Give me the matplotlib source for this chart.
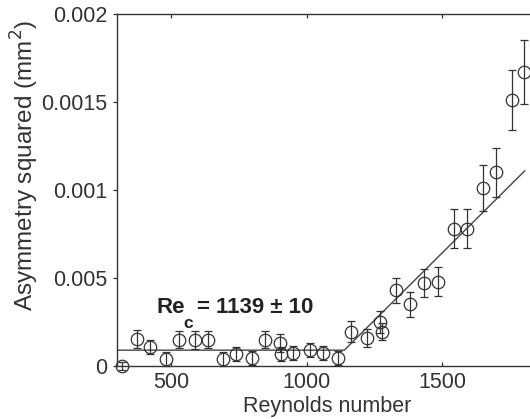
import numpy as np
import matplotlib
matplotlib.use("Agg")
import matplotlib.pyplot as plt

plt.rcParams['font.family'] = ['Liberation Sans', 'DejaVu Sans']

# measured points (Reynolds number, asymmetry squared in mm^2, error)
reynolds = [318, 373, 422, 482, 530, 589, 635, 693, 740, 798, 845, 902, 906, 951,
            1013, 1060, 1117, 1164, 1222, 1271, 1277, 1330, 1382, 1434, 1486, 1544,
            1593, 1652, 1699, 1757, 1803]
asym_sq = [0.0, 0.000152, 0.00011, 0.00004, 0.00015, 0.000148, 0.00015, 0.00004,
           0.00007, 0.000044, 0.00015, 0.00013, 0.000068, 0.000076, 0.00009, 0.000076,
           0.000044, 0.000195, 0.00016, 0.00025, 0.000195, 0.00043, 0.00035, 0.00047,
           0.00048, 0.00078, 0.00078, 0.00101, 0.0011, 0.00151, 0.00167]
asym_err = [0.00002, 0.00005, 0.00004, 0.00004, 0.00005, 0.00005, 0.00005, 0.00004,
            0.00004, 0.00004, 0.00005, 0.00005, 0.00004, 0.00004, 0.00004, 0.00004,
            0.00004, 0.00006, 0.00005, 0.00006, 0.00005, 0.00007, 0.00007, 0.00008,
            0.00008, 0.00011, 0.00011, 0.00013, 0.00014, 0.00017, 0.00018]

# piecewise fit: flat then linear above Re_c
re_c = 1139
fit_base = 0.00009
fit_slope = 1.53e-6
fit_end = 1805

xticks = [500, 1000, 1500]
yticks = [0, 0.0005, 0.001, 0.0015, 0.002]
ytick_labels = ['0', '0.005', '0.001', '0.0015', '0.002']

ink = '#333333'
tick_fs = 15.5

fig = plt.figure(figsize=(5.3, 4.19), dpi=100)
# axes runs past the right edge, the original figure is cropped there
ax = fig.add_axes([0.2208, 0.1265, 0.869, 0.840])
ax.set_xlim(300, 2000)
ax.set_ylim(0, 0.002)

# fit line
fit_x = np.array([300, re_c, fit_end])
fit_y = np.where(fit_x <= re_c, fit_base, fit_base + fit_slope * (fit_x - re_c))
ax.plot(fit_x, fit_y, color='#444444', lw=1.0, zorder=2)

ax.errorbar(reynolds, asym_sq, yerr=asym_err, fmt='o', ms=9, mfc='none',
            mec=ink, mew=0.9, ecolor=ink, elinewidth=0.9, capsize=3,
            capthick=0.9, clip_on=False, zorder=3)

ax.set_xticks(xticks)
ax.set_yticks(yticks)
ax.set_yticklabels(ytick_labels)
ax.tick_params(axis='x', direction='in', top=True, length=3, width=0.9,
               colors=ink, labelsize=tick_fs, pad=4)
ax.tick_params(axis='y', direction='out', length=3, width=0.9,
               colors=ink, labelsize=tick_fs, pad=4)
for s in ax.spines.values():
    s.set_color(ink)
    s.set_linewidth(1.0)

ax.set_xlabel('Reynolds number', fontsize=tick_fs, color=ink)
ax.xaxis.set_label_coords(0.456, -0.085)
ax.set_ylabel('Asymmetry squared (mm$^2$)', fontsize=17.5, color=ink)
ax.yaxis.set_label_coords(-0.166, 0.57)

# Re_c annotation
tx, ty = 446, 0.0003
ax.text(tx, ty, 'Re', fontsize=16, fontweight='bold', color='#222222',
        ha='left', va='baseline')
ax.annotate('c', xy=(tx, ty), xytext=(19.5, -10.5), textcoords='offset points',
            fontsize=12.5, fontweight='bold', color='#222222', ha='left', va='baseline')
ax.annotate('= 1139 ± 10', xy=(tx, ty), xytext=(29, 0), textcoords='offset points',
            fontsize=16, fontweight='bold', color='#222222', ha='left', va='baseline')

plt.savefig('out.png', dpi=100)
plt.close()
